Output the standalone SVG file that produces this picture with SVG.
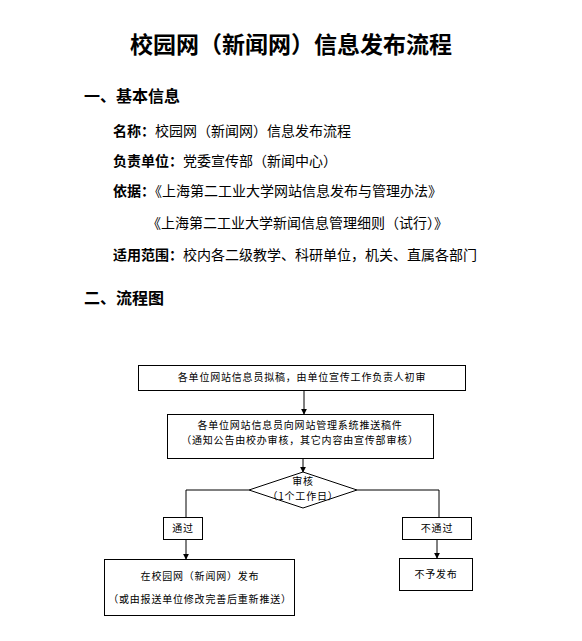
<svg xmlns="http://www.w3.org/2000/svg" width="582" height="641" viewBox="0 0 582 641">
<defs>
<style>
text{font-family:"Noto Sans CJK SC","Noto Sans",sans-serif;fill:#000}
.title{font-size:23px;font-weight:bold}
.h{font-size:16px;font-weight:bold}
.b{font-size:14px}
.bb{font-weight:bold}
.f{font-size:10px;letter-spacing:0.8px}
.box{fill:#fff;stroke:#000;stroke-width:1}
.ln{fill:none;stroke:#000;stroke-width:1}
</style>
<marker id="ah" viewBox="0 0 8 8" refX="7" refY="4" markerWidth="6" markerHeight="6" orient="auto" markerUnits="userSpaceOnUse">
<path d="M0,0 L8,4 L0,8 Z" fill="#000"/>
</marker>
</defs>
<rect width="582" height="641" fill="#fff"/>
<g id="header">
<text class="title" x="291" y="53" text-anchor="middle">校园网（新闻网）信息发布流程</text>
<text class="h" x="84" y="102">一、基本信息</text>
<text class="b" x="113" y="136"><tspan class="bb">名称：</tspan>校园网（新闻网）信息发布流程</text>
<text class="b" x="113" y="166"><tspan class="bb">负责单位：</tspan>党委宣传部（新闻中心）</text>
<text class="b" x="113" y="196"><tspan class="bb">依据：</tspan>《上海第二工业大学网站信息发布与管理办法》</text>
<text class="b" x="147" y="228">《上海第二工业大学新闻信息管理细则（试行）》</text>
<text class="b" x="113" y="260"><tspan class="bb">适用范围：</tspan>校内各二级教学、科研单位，机关、直属各部门</text>
<text class="h" x="84" y="304">二、流程图</text>
</g>
<g id="connectors">
<line class="ln" x1="304" y1="390" x2="304" y2="414" marker-end="url(#ah)"/>
<line class="ln" x1="303" y1="458" x2="303" y2="472" marker-end="url(#ah)"/>
<polyline class="ln" points="249,490 186,490 186,517"/>
<polyline class="ln" points="357,490 439,490 439,517"/>
<line class="ln" x1="186" y1="539" x2="186" y2="559" marker-end="url(#ah)"/>
<line class="ln" x1="437" y1="539" x2="437" y2="558" marker-end="url(#ah)"/>
</g>
<g id="n1">
<rect class="box" x="138.5" y="365.5" width="327" height="25"/>
<text class="f" x="302" y="381" text-anchor="middle">各单位网站信息员拟稿，由单位宣传工作负责人初审</text>
</g>
<g id="n2">
<rect class="box" x="167.5" y="414.5" width="266" height="44"/>
<text class="f" x="300" y="429" text-anchor="middle">各单位网站信息员向网站管理系统推送稿件</text>
<text class="f" x="300" y="444" text-anchor="middle">（通知公告由校办审核，其它内容由宣传部审核）</text>
</g>
<g id="n3">
<polygon class="box" points="303,472 357,490 303,508 249,490"/>
<text class="f" x="303" y="485" text-anchor="middle">审核</text>
<text class="f" x="303" y="500" text-anchor="middle">（1个工作日）</text>
</g>
<g id="n4">
<rect class="box" x="163.5" y="517.5" width="39" height="22"/>
<text class="f" x="183" y="532" text-anchor="middle">通过</text>
</g>
<g id="n5">
<rect class="box" x="402.5" y="517.5" width="69" height="22"/>
<text class="f" x="437" y="532" text-anchor="middle">不通过</text>
</g>
<g id="n6">
<rect class="box" x="104.5" y="559.5" width="190" height="56"/>
<text class="f" x="200" y="580" text-anchor="middle">在校园网（新闻网）发布</text>
<text class="f" x="200" y="603" text-anchor="middle">（或由报送单位修改完善后重新推送）</text>
</g>
<g id="n7">
<rect class="box" x="399.5" y="558.5" width="73" height="32"/>
<text class="f" x="436" y="578" text-anchor="middle">不予发布</text>
</g>
</svg>
